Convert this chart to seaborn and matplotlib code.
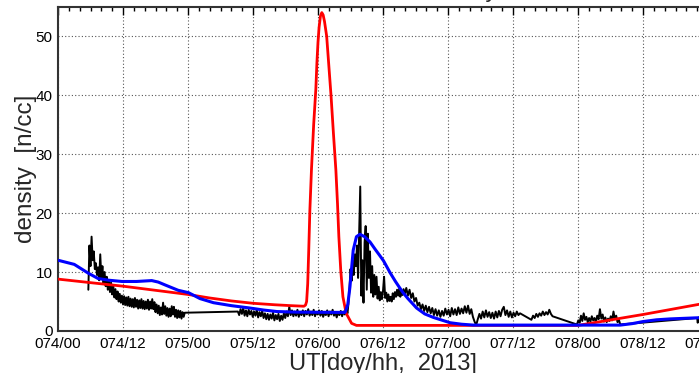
import numpy as np
import pandas as pd
import matplotlib
matplotlib.use("Agg")
import matplotlib.pyplot as plt
import seaborn as sns

# ---- data: hours since 2013 doy 074 00:00 UT, density in n/cc ----
tick_hours = [0, 12, 24, 36, 48, 60, 72, 84, 96, 108, 120]
tick_labels = ["074/00", "074/12", "075/00", "075/12", "076/00", "076/12",
               "077/00", "077/12", "078/00", "078/12", "079/00"]

# observed density, regularly sampled pieces: (start hour, step, values)
obs_a_start, obs_a_step = 5.6, 0.2
obs_a = [7.0, 14.5, 11.0, 16.0, 12.0, 13.5, 10.5, 11.5, 9.5, 10.8,
         8.6, 13.0, 9.0, 11.0, 8.0, 10.0, 7.6, 9.2, 7.0, 8.6,
         6.6, 8.2, 6.2, 7.6, 5.7, 7.1, 5.4, 6.7, 5.0, 6.3,
         4.8, 6.0, 4.5, 5.9, 4.4, 5.7, 4.3, 5.8, 4.2, 5.5,
         4.1, 5.4, 4.0, 5.6, 4.1, 5.3, 3.8, 5.2, 3.9, 5.4,
         3.8, 5.1, 3.7, 5.0, 3.8, 5.3, 3.6, 5.0, 3.8, 5.4,
         3.7, 4.9, 3.2, 4.5, 3.0, 4.3, 2.7, 4.0, 2.8, 4.8,
         2.9, 4.2, 2.6, 3.9, 2.4, 3.8, 2.5, 4.2, 2.8, 4.1,
         2.4, 3.6, 2.2, 3.5, 2.3, 3.4, 2.1, 3.2, 2.4, 3.1]

obs_b_start, obs_b_step = 33.2, 0.25
obs_b = [3.3, 2.7, 3.7, 2.9, 3.9, 2.6, 3.5, 2.5, 3.6, 2.8,
         3.4, 2.4, 3.3, 2.6, 3.6, 2.3, 3.2, 2.5, 3.4, 2.2,
         3.0, 2.0, 2.9, 1.9, 2.8, 2.1, 3.1, 1.8, 2.7, 2.0,
         2.9, 1.7, 2.6, 1.9, 3.0, 2.2, 3.3, 2.5, 4.1, 2.7,
         3.5, 2.5, 3.3, 2.6, 3.6, 2.4, 3.2, 2.7, 3.5, 2.5,
         3.4, 2.8, 3.7, 2.6, 3.3, 2.7, 3.6, 2.5, 3.2, 2.8,
         3.5, 2.6, 3.4, 2.4, 3.1, 2.7, 3.5, 2.5, 3.3, 2.8,
         3.6, 2.6, 3.2, 2.3, 3.1, 2.7, 3.4, 2.5, 3.3, 2.8,
         3.4, 3.0]

obs_c_start, obs_c_step = 53.6, 0.2
obs_c = [4.5, 7.0, 10.5, 8.5, 12.0, 9.5, 13.0, 11.0, 14.5, 9.0,
         16.5, 24.5, 6.0, 12.0, 4.8, 15.0, 17.8, 7.0, 16.5, 9.0,
         13.5, 6.5, 11.0, 5.8, 9.5, 6.2, 9.2, 5.5, 7.5, 5.2,
         6.6, 5.4, 6.8, 9.2, 5.6, 6.5, 5.0, 6.2, 5.1, 5.8,
         5.0, 6.4, 5.4, 6.6, 5.8, 7.0, 6.0, 7.2, 5.8, 6.9,
         6.1, 7.1]

obs_d_start, obs_d_step = 64.0, 0.3
obs_d = [6.2, 7.3, 6.0, 7.0, 5.6, 6.4, 5.0, 5.6, 4.3, 4.8,
         3.7, 4.5, 3.4, 4.3, 3.2, 4.1, 3.0, 3.9, 2.7, 3.7,
         2.6, 3.5, 2.4, 3.4, 2.6, 3.8, 2.8, 3.6, 2.5, 3.9,
         2.8, 3.7, 2.7, 4.0, 2.9, 3.8, 3.0, 4.2, 3.1, 4.3,
         2.9, 3.7, 2.4, 1.6, 1.0, 2.0, 2.9, 2.1, 3.3, 2.3,
         3.5, 2.4, 3.2, 2.2, 3.1, 2.1, 3.3, 2.3, 3.4, 2.5,
         3.6, 4.1, 2.7, 3.5, 2.4, 3.3, 2.3, 3.1, 2.5, 3.3,
         2.7, 3.0]

obs_e_start, obs_e_step = 87.4, 0.3
obs_e = [1.9, 2.6, 2.2, 2.9, 2.4, 3.0, 2.6, 3.3, 2.7, 3.2,
         2.8, 3.6, 2.9, 2.5]

obs_f_start, obs_f_step = 95.8, 0.25
obs_f = [1.1, 1.8, 1.4, 2.6, 1.7, 3.0, 1.9, 2.4, 1.5, 2.2,
         1.6, 2.5, 1.8, 2.2, 1.5, 2.6, 2.0, 3.7, 2.1, 2.8,
         1.6, 2.3, 1.5, 2.1, 1.7, 2.5, 1.8, 3.3, 2.0, 2.6,
         1.5, 1.9, 1.1]

obs_tail_hours = [118.0, 118.1, 118.3, 118.6, 119.0]
obs_tail = [2.2, 1.4, 2.3, 2.1, 2.3]

# model A (red)
red_hours = [0.0, 6.0, 12.0, 18.0, 24.0, 28.0, 32.0, 36.0, 40.0, 43.0,
             45.4, 45.7, 45.9, 46.1, 46.3, 46.5, 46.8, 47.2, 47.6, 47.8,
             48.0, 48.2, 48.45, 48.7, 48.95, 49.2, 49.6, 50.0, 50.4, 50.85,
             51.3, 51.6, 51.85, 52.2, 52.6, 53.2, 54.2, 55.1, 96.0, 108.0,
             120.0]
red_density = [8.8, 8.2, 7.6, 6.9, 6.2, 5.6, 5.1, 4.7, 4.45, 4.3,
               4.2, 4.4, 5.0, 8.0, 14.0, 20.5, 27.5, 35.0, 41.0, 45.5,
               49.0, 51.5, 53.4, 54.0, 53.6, 52.5, 50.0, 45.0, 40.0, 33.5,
               27.3, 21.6, 16.0, 10.3, 5.8, 3.0, 1.3, 0.95, 0.95, 2.8,
               4.8]

# model B (blue)
blue_hours = [0.0, 3.0, 5.6, 7.4, 9.5, 11.8, 14.5, 17.3, 18.5, 19.8,
              22.2, 24.1, 26.2, 28.7, 32.0, 35.4, 38.0, 40.4, 44.0, 53.0,
              53.5, 53.9, 54.5, 55.1, 55.75, 56.6, 57.6, 58.6, 59.4, 60.1,
              61.3, 62.3, 63.1, 63.7, 64.6, 66.2, 67.7, 69.3, 72.4, 74.5,
              76.7, 103.8, 106.0, 108.0, 110.5, 113.0, 118.3, 120.0]
blue_density = [12.0, 11.3, 9.8, 8.9, 8.6, 8.4, 8.4, 8.55, 8.3, 7.8,
                6.9, 6.5, 5.5, 4.8, 4.3, 3.9, 3.55, 3.3, 3.2, 3.15,
                4.5, 7.5, 13.7, 16.0, 16.4, 16.0, 15.1, 13.8, 12.8, 11.9,
                9.9, 8.4, 7.3, 6.5, 5.5, 3.9, 2.9, 2.3, 1.4, 1.15,
                1.0, 1.0, 1.25, 1.6, 1.9, 2.05, 2.25, 2.3]


def piece(start, step, values):
    return start + step * np.arange(len(values)), np.asarray(values, float)


pieces = [piece(obs_a_start, obs_a_step, obs_a),
          piece(obs_b_start, obs_b_step, obs_b),
          piece(obs_c_start, obs_c_step, obs_c),
          piece(obs_d_start, obs_d_step, obs_d),
          piece(obs_e_start, obs_e_step, obs_e),
          piece(obs_f_start, obs_f_step, obs_f),
          (np.asarray(obs_tail_hours), np.asarray(obs_tail, float))]
obs = pd.DataFrame({"hour": np.concatenate([p[0] for p in pieces]),
                    "density": np.concatenate([p[1] for p in pieces])})
red = pd.DataFrame({"hour": red_hours, "density": red_density})
blue = pd.DataFrame({"hour": blue_hours, "density": blue_density})

# ---- styling ----
sns.set_theme(style="white")
plt.rcParams["font.family"] = ["Liberation Sans", "DejaVu Sans"]

fig = plt.figure(figsize=(6.99, 3.73), dpi=100)
ax = fig.add_axes([58 / 699, 42 / 373, 650 / 699, 324.3 / 373])

sns.lineplot(data=obs, x="hour", y="density", ax=ax, color="black",
             lw=1.4, estimator=None, sort=False, zorder=3)
sns.lineplot(data=red, x="hour", y="density", ax=ax, color="#ff0000",
             lw=2.0, estimator=None, sort=False, zorder=4)
sns.lineplot(data=blue, x="hour", y="density", ax=ax, color="#0000ff",
             lw=2.2, estimator=None, sort=False, zorder=5)

ax.set_xlim(0, 120)
ax.set_ylim(0, 55)
ax.set_xticks(tick_hours)
ax.set_xticklabels(tick_labels)
ax.set_xticks(np.arange(0, 121, 2), minor=True)
ax.set_yticks([0, 10, 20, 30, 40, 50])
ax.set_yticks(np.arange(0, 55, 2), minor=True)

ax.tick_params(which="both", direction="in", top=True, right=True,
               colors="black", labelsize=11, width=1.0)
ax.tick_params(which="major", length=6, pad=4)
ax.tick_params(which="minor", length=3)

ax.grid(True, which="major", color="#555555", linestyle=(0, (1, 2)), lw=0.8)
for side, sp in ax.spines.items():
    sp.set_color("#333333")
    sp.set_linewidth(1.5)

ax.set_xlabel("UT[doy/hh,  2013]", fontsize=17, labelpad=2)
ax.set_ylabel("density  [n/cc]", fontsize=17.5, labelpad=-1)

fig.text(497 / 699, 1 + 3 / 373, "Solar wind density",
         ha="right", va="baseline", fontsize=17)

fig.savefig("out.png", dpi=100)
